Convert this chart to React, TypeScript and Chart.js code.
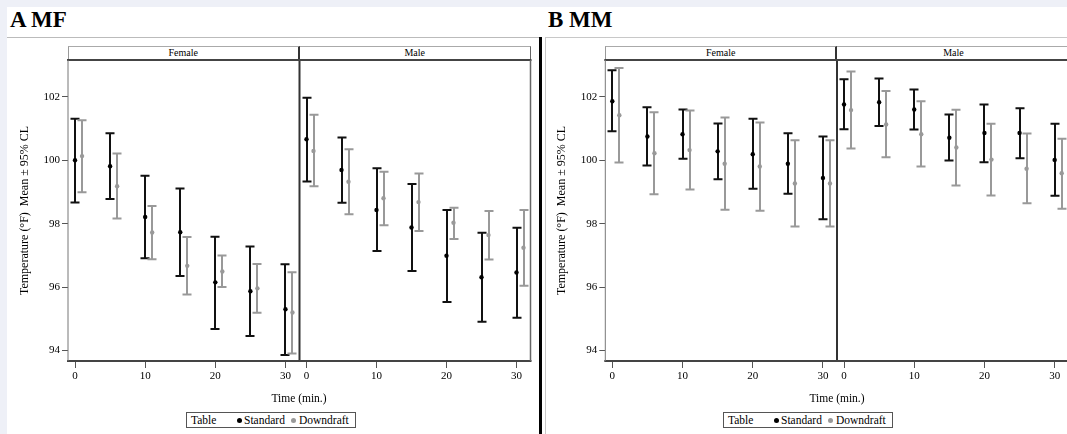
import React, { useEffect, useRef } from "react";
import { Chart, registerables } from "chart.js";

Chart.register(...registerables);

// ---------- data ----------
const TIME = [0, 5, 10, 15, 20, 25, 30];
const X_TICKS = [0, 10, 20, 30];
const Y_TICKS = [94, 96, 98, 100, 102];
const SERIES = ["Standard", "Downdraft"];
const SEXES = ["Female", "Male"];
const PANEL_TITLES = ["A MF", "B MM"];

// Panel A (MF) – Female
const A_F_STD_MEAN = [100.0, 99.81, 98.21, 97.73, 96.15, 95.87, 95.3];
const A_F_STD_LO = [98.67, 98.78, 96.91, 96.35, 94.68, 94.46, 93.86];
const A_F_STD_HI = [101.31, 100.85, 99.51, 99.11, 97.59, 97.28, 96.72];
const A_F_DD_MEAN = [100.13, 99.18, 97.72, 96.67, 96.49, 95.96, 95.2];
const A_F_DD_LO = [98.99, 98.16, 96.88, 95.77, 96.0, 95.19, 93.91];
const A_F_DD_HI = [101.26, 100.21, 98.56, 97.58, 97.0, 96.73, 96.47];
// Panel A (MF) – Male
const A_M_STD_MEAN = [100.66, 99.69, 98.43, 97.88, 96.99, 96.31, 96.46];
const A_M_STD_LO = [99.33, 98.66, 97.14, 96.51, 95.53, 94.91, 95.03];
const A_M_STD_HI = [101.97, 100.72, 99.75, 99.25, 98.43, 97.71, 97.87];
const A_M_DD_MEAN = [100.29, 99.32, 98.8, 98.68, 98.03, 97.64, 97.24];
const A_M_DD_LO = [99.18, 98.3, 97.95, 97.77, 97.52, 96.87, 96.04];
const A_M_DD_HI = [101.43, 100.35, 99.64, 99.58, 98.5, 98.4, 98.43];
// Panel B (MM) – Female
const B_F_STD_MEAN = [101.86, 100.75, 100.82, 100.28, 100.19, 99.89, 99.44];
const B_F_STD_LO = [100.91, 99.83, 100.05, 99.4, 99.1, 98.94, 98.14];
const B_F_STD_HI = [102.84, 101.67, 101.6, 101.16, 101.31, 100.85, 100.75];
const B_F_DD_MEAN = [101.42, 100.22, 100.32, 99.89, 99.8, 99.27, 99.27];
const B_F_DD_LO = [99.93, 98.93, 99.08, 98.44, 98.41, 97.91, 97.91];
const B_F_DD_HI = [102.91, 101.51, 101.57, 101.35, 101.19, 100.63, 100.63];
// Panel B (MM) – Male
const B_M_STD_MEAN = [101.76, 101.83, 101.6, 100.71, 100.86, 100.86, 100.01];
const B_M_STD_LO = [100.98, 101.08, 100.97, 99.99, 99.94, 100.06, 98.88];
const B_M_STD_HI = [102.55, 102.58, 102.23, 101.44, 101.76, 101.64, 101.15];
const B_M_DD_MEAN = [101.58, 101.13, 100.82, 100.4, 100.02, 99.73, 99.59];
const B_M_DD_LO = [100.37, 100.09, 99.8, 99.2, 98.89, 98.64, 98.47];
const B_M_DD_HI = [102.8, 102.18, 101.86, 101.59, 101.15, 100.84, 100.68];

// ---------- style / layout ----------
const FONT = '"Liberation Serif", "DejaVu Serif", serif';
const X_MIN = -1;
const X_MAX = 32;
const Y_MIN = 93.67;
const Y_MAX = 103.16;
const DD_SHIFT = 1; // cluster offset of the Downdraft group
const Y_TITLE = "Temperature (°F)  Mean ± 95% CL";
const X_TITLE = "Time (min.)";
const STD_COLOR = "#111111";
const DD_COLOR = "#999999";
const YW = 61;
const XH = 30;

const errorBarPlugin = {
  id: "errorBars",
  beforeDatasetsDraw(chart: any) {
    const { ctx } = chart;
    const xs = chart.scales.x;
    const ys = chart.scales.y;
    chart.data.datasets.forEach((ds: any) => {
      if (!ds.errLo) return;
      ctx.save();
      ctx.strokeStyle = ds.errColor;
      ctx.lineWidth = 2;
      ds.data.forEach((p: any, j: number) => {
        const px = Math.round(xs.getPixelForValue(p.x));
        const yl = ys.getPixelForValue(ds.errLo[j]);
        const yh = ys.getPixelForValue(ds.errHi[j]);
        ctx.beginPath();
        ctx.moveTo(px, yl);
        ctx.lineTo(px, yh);
        ctx.moveTo(px - 4.5, yl);
        ctx.lineTo(px + 4.5, yl);
        ctx.moveTo(px - 4.5, yh);
        ctx.lineTo(px + 4.5, yh);
        ctx.stroke();
      });
      ctx.restore();
    });
  },
};

const framePlugin = {
  id: "frame",
  afterDraw(chart: any, _args: any, opts: any) {
    const { ctx, chartArea: a } = chart;
    const line = (x1: number, y1: number, x2: number, y2: number, c: string, w: number) => {
      ctx.save();
      ctx.strokeStyle = c;
      ctx.lineWidth = w;
      ctx.beginPath();
      ctx.moveTo(x1, y1);
      ctx.lineTo(x2, y2);
      ctx.stroke();
      ctx.restore();
    };
    line(a.left - 1, a.top, a.right + 1, a.top, "#444", 2);
    line(a.left - 1, a.bottom, a.right + 1, a.bottom, "#444", 2);
    if (opts.left) line(a.left, a.top, a.left, a.bottom, opts.left.c, opts.left.w);
    if (opts.right) line(a.right, a.top, a.right, a.bottom, opts.right.c, opts.right.w);
  },
};

type Series = { mean: number[]; lo: number[]; hi: number[] };
type SubDef = {
  canvas: { x: number; y: number; w: number; h: number };
  area: { l: number; r: number; t: number; b: number };
  showY: boolean;
  std: Series;
  dd: Series;
  left?: { c: string; w: number };
  right?: { c: string; w: number };
};

function SubPlot({ def }: { def: SubDef }) {
  const ref = useRef<HTMLCanvasElement | null>(null);
  useEffect(() => {
    const { canvas: c, area, showY } = def;
    const padding = {
      left: area.l - c.x - (showY ? YW : 0),
      right: c.x + c.w - area.r,
      top: area.t - c.y,
      bottom: c.y + c.h - area.b - XH,
    };
    const chart = new Chart(ref.current as HTMLCanvasElement, {
      type: "scatter",
      data: {
        datasets: [
          {
            label: SERIES[0],
            data: TIME.map((t, i) => ({ x: t, y: def.std.mean[i] })),
            pointRadius: 2.2,
            pointBackgroundColor: "#000",
            pointBorderWidth: 0,
            showLine: false,
            errLo: def.std.lo,
            errHi: def.std.hi,
            errColor: STD_COLOR,
          } as any,
          {
            label: SERIES[1],
            data: TIME.map((t, i) => ({ x: t + DD_SHIFT, y: def.dd.mean[i] })),
            pointRadius: 2.2,
            pointBackgroundColor: DD_COLOR,
            pointBorderWidth: 0,
            showLine: false,
            errLo: def.dd.lo,
            errHi: def.dd.hi,
            errColor: DD_COLOR,
          } as any,
        ],
      },
      options: {
        animation: false,
        responsive: false,
        devicePixelRatio: 1,
        events: [],
        layout: { autoPadding: false, padding } as any,
        plugins: {
          legend: { display: false },
          tooltip: { enabled: false },
          frame: { left: def.left, right: def.right },
        } as any,
        scales: {
          x: {
            type: "linear",
            min: X_MIN,
            max: X_MAX,
            afterBuildTicks: (s: any) => {
              s.ticks = X_TICKS.map((v) => ({ value: v }));
            },
            afterFit: (s: any) => {
              s.height = XH;
            },
            grid: { drawOnChartArea: false, drawTicks: true, tickLength: 7, color: "#555", lineWidth: 1 },
            border: { display: false },
            ticks: { padding: 2, color: "#000", font: { family: FONT, size: 11 }, maxRotation: 0, autoSkip: false },
          },
          y: {
            type: "linear",
            min: Y_MIN,
            max: Y_MAX,
            display: showY,
            afterBuildTicks: (s: any) => {
              s.ticks = Y_TICKS.map((v) => ({ value: v }));
            },
            afterFit: (s: any) => {
              s.width = showY ? YW : 0;
            },
            grid: { drawOnChartArea: false, drawTicks: true, tickLength: 6, color: "#555", lineWidth: 1 },
            border: { display: false },
            ticks: { padding: 2, color: "#000", font: { family: FONT, size: 11 }, autoSkip: false },
            title: {
              display: true,
              text: Y_TITLE,
              color: "#000",
              font: { family: FONT, size: 12 },
              padding: { top: 10.8, bottom: 0 },
            },
          },
        },
      },
      plugins: [errorBarPlugin, framePlugin],
    });
    return () => chart.destroy();
  }, [def]);
  const { canvas: c } = def;
  return (
    <canvas
      ref={ref}
      width={c.w}
      height={c.h}
      style={{ position: "absolute", left: c.x, top: c.y, width: c.w, height: c.h }}
    />
  );
}

function Header({ l, r, text, leftBorder, rightBorder }: any) {
  return (
    <div
      style={{
        position: "absolute",
        left: l,
        top: 46,
        width: r - l,
        height: 13,
        boxSizing: "border-box",
        borderTop: "1px solid #aaa",
        borderLeft: leftBorder,
        borderRight: rightBorder,
        font: `10px ${FONT}`,
        lineHeight: "12px",
        textAlign: "center",
        color: "#000",
      }}
    >
      {text}
    </div>
  );
}

function Legend({ left }: { left: number }) {
  const dot = (x: number, c: string) => (
    <div
      style={{
        position: "absolute",
        left: x - 2.5,
        top: 4.5,
        width: 5,
        height: 5,
        borderRadius: "50%",
        background: c,
      }}
    />
  );
  const txt = (x: number, t: string) => (
    <div style={{ position: "absolute", left: x, top: 0, lineHeight: "14px", whiteSpace: "nowrap" }}>{t}</div>
  );
  return (
    <div
      style={{
        position: "absolute",
        left,
        top: 412,
        width: 170,
        height: 16,
        boxSizing: "border-box",
        border: "1px solid #555",
        font: `11.5px ${FONT}`,
        color: "#000",
      }}
    >
      {txt(4, "Table")}
      {dot(52, "#000")}
      {txt(57, SERIES[0])}
      {dot(106, DD_COLOR)}
      {txt(112, SERIES[1])}
    </div>
  );
}

const SUBS: SubDef[] = [
  {
    canvas: { x: 7, y: 40, w: 532, h: 355 },
    area: { l: 68, r: 299.5, t: 60, b: 361 },
    showY: true,
    std: { mean: A_F_STD_MEAN, lo: A_F_STD_LO, hi: A_F_STD_HI },
    dd: { mean: A_F_DD_MEAN, lo: A_F_DD_LO, hi: A_F_DD_HI },
    left: { c: "#777", w: 1 },
    right: { c: "#333", w: 2 },
  },
  {
    canvas: { x: 7, y: 40, w: 532, h: 355 },
    area: { l: 299.5, r: 530.5, t: 60, b: 361 },
    showY: false,
    std: { mean: A_M_STD_MEAN, lo: A_M_STD_LO, hi: A_M_STD_HI },
    dd: { mean: A_M_DD_MEAN, lo: A_M_DD_LO, hi: A_M_DD_HI },
    right: { c: "#666", w: 1.5 },
  },
  {
    canvas: { x: 542, y: 40, w: 540, h: 355 },
    area: { l: 605.3, r: 837, t: 60, b: 361 },
    showY: true,
    std: { mean: B_F_STD_MEAN, lo: B_F_STD_LO, hi: B_F_STD_HI },
    dd: { mean: B_F_DD_MEAN, lo: B_F_DD_LO, hi: B_F_DD_HI },
    left: { c: "#777", w: 1 },
    right: { c: "#333", w: 2 },
  },
  {
    canvas: { x: 542, y: 40, w: 540, h: 355 },
    area: { l: 837, r: 1068.7, t: 60, b: 361 },
    showY: false,
    std: { mean: B_M_STD_MEAN, lo: B_M_STD_LO, hi: B_M_STD_HI },
    dd: { mean: B_M_DD_MEAN, lo: B_M_DD_LO, hi: B_M_DD_HI },
    right: { c: "#666", w: 1.5 },
  },
];

export default function App() {
  const abs = (s: any) => ({ position: "absolute" as const, ...s });
  return (
    <div
      style={{
        position: "absolute",
        left: 0,
        top: 0,
        width: 1067,
        height: 434,
        overflow: "hidden",
        background: "#eef0f7",
        fontFamily: FONT,
      }}
    >
      <div style={abs({ left: 7, top: 7, width: 532, height: 427, background: "#fff" })} />
      <div style={abs({ left: 539, top: 7, width: 528, height: 427, background: "#fff" })} />
      <div style={abs({ left: 539, top: 37, width: 3, height: 397, background: "#000" })} />
      <div style={abs({ left: 7, top: 37, width: 532, height: 1, background: "#bbb" })} />
      <div style={abs({ left: 545, top: 37, width: 522, height: 1, background: "#c8c8c8" })} />
      <div style={abs({ left: 545, top: 37, width: 1, height: 397, background: "#c8c8c8" })} />

      <div style={abs({ left: 10, top: 8, font: `bold 23px ${FONT}`, lineHeight: "23px", color: "#000" })}>
        {PANEL_TITLES[0]}
      </div>
      <div style={abs({ left: 548, top: 8, font: `bold 23px ${FONT}`, lineHeight: "23px", color: "#000" })}>
        {PANEL_TITLES[1]}
      </div>

      <Header l={68} r={299.5} text={SEXES[0]} leftBorder="1px solid #999" rightBorder="2px solid #333" />
      <Header l={299.5} r={531} text={SEXES[1]} rightBorder="1.5px solid #666" />
      <Header l={605.3} r={837} text={SEXES[0]} leftBorder="1px solid #999" rightBorder="2px solid #333" />
      <Header l={837} r={1070} text={SEXES[1]} />

      {SUBS.map((d, i) => (
        <SubPlot key={i} def={d} />
      ))}

      <div style={abs({ left: 299 - 100, top: 391, width: 200, textAlign: "center", font: `11.5px ${FONT}`, lineHeight: "14px", color: "#000" })}>
        {X_TITLE}
      </div>
      <div style={abs({ left: 837 - 100, top: 391, width: 200, textAlign: "center", font: `11.5px ${FONT}`, lineHeight: "14px", color: "#000" })}>
        {X_TITLE}
      </div>

      <Legend left={186} />
      <Legend left={723} />
    </div>
  );
}
